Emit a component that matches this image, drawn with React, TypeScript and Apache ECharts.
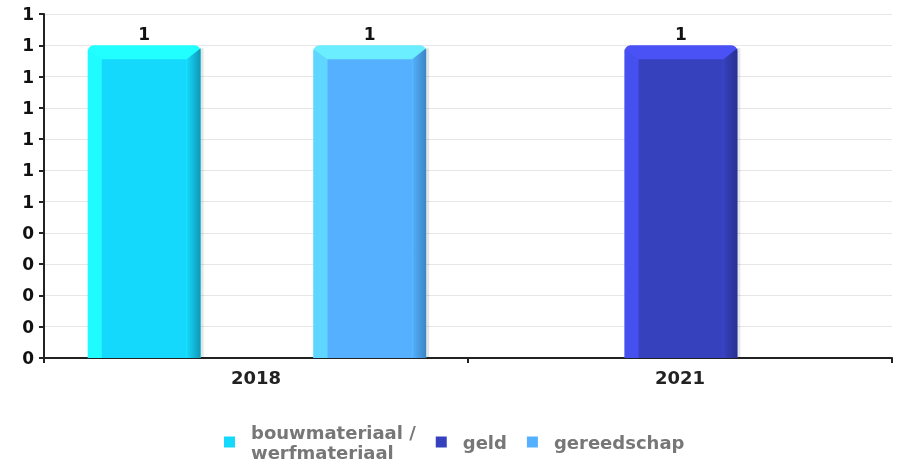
import React, { useEffect, useRef } from "react";
import * as echarts from "echarts";

const categories = ["2018", "2021"];
const seriesNames = ["bouwmateriaal / werfmateriaal", "geld", "gereedschap"];
const bouwmateriaal: (number | null)[] = [1, null];
const geld: (number | null)[] = [null, 1];
const gereedschap: (number | null)[] = [1, null];
const yTicks = { min: 0, max: 1.1, interval: 0.1 };

const palettes = [
  { base: "#15D9FC", light: "#1FFCFF", top: "#22FFFF", dark: "#1096B6" },
  { base: "#3641BE", light: "#4550EE", top: "#4A52F6", dark: "#283090" },
  { base: "#55B1FF", light: "#5FD6FF", top: "#6BEEFF", dark: "#3A84C4" },
];

const FONT = "DejaVu Sans";

function makeRender(slot: number, pal: any) {
  return (params: any, api: any) => {
    const ci = api.value(0);
    const v = api.value(1);
    const top = api.coord([ci, v]);
    const bot = api.coord([ci, 0]);
    const band = api.size([1, 0])[0];
    const w = band * 0.266;
    const cx = top[0] + (slot - 1) * w + 1;
    const x0 = cx - w / 2;
    const x1 = cx + w / 2;
    const yT = top[1];
    const yB = bot[1];
    const b = 14;
    return {
      type: "group",
      children: [
        { type: "rect", shape: { x: x1, y: yT + 3, width: 3, height: yB - yT - 3 }, style: { fill: "rgba(0,0,0,0.10)" } },
        { type: "rect", shape: { x: x0, y: yT, width: w, height: yB - yT, r: [6, 6, 0, 0] }, style: { fill: pal.top } },
        {
          type: "polygon",
          shape: { points: [[x0, yT + 4], [x0 + b, yT + b], [x0 + b, yB], [x0, yB]] },
          style: { fill: pal.light },
        },
        {
          type: "polygon",
          shape: { points: [[x1, yT + 3], [x1 - b, yT + b], [x1 - b, yB], [x1, yB]] },
          style: {
            fill: new echarts.graphic.LinearGradient(0, 0, 1, 0, [
              { offset: 0, color: pal.base },
              { offset: 1, color: pal.dark },
            ]),
          },
        },
        { type: "rect", shape: { x: x0 + b, y: yT + b, width: w - 2 * b, height: yB - yT - b }, style: { fill: pal.base } },
        {
          type: "text",
          style: {
            text: String(Math.round(v)),
            x: cx,
            y: yT - 3,
            align: "center",
            verticalAlign: "bottom",
            fill: "#111",
            font: `bold 17px "${FONT}"`,
          },
        },
      ],
    };
  };
}

const toData = (arr: (number | null)[]) =>
  arr.map((v, i) => [i, v]).filter((d) => d[1] !== null);

export default function App() {
  const ref = useRef<HTMLDivElement>(null);
  useEffect(() => {
    if (!ref.current) return;
    const chart = echarts.init(ref.current, undefined, { renderer: "svg" });
    const all = [bouwmateriaal, geld, gereedschap];
    chart.setOption({
      animation: false,
      textStyle: { fontFamily: FONT },
      grid: { left: 44, right: 9, top: 14, bottom: 107, containLabel: false },
      legend: {
        left: 224,
        top: 422,
        padding: 0,
        icon: "rect",
        itemWidth: 11,
        itemHeight: 11,
        itemGap: 20,
        data: seriesNames,
        formatter: (n: string) => n.replace(" / ", " /\n"),
        textStyle: {
          color: "#777",
          fontWeight: "bold",
          fontSize: 18,
          lineHeight: 20,
          fontFamily: FONT,
          padding: [0, 0, 0, 11],
        },
      },
      xAxis: {
        type: "category",
        data: categories,
        boundaryGap: true,
        axisLine: { lineStyle: { color: "#222", width: 2 } },
        axisTick: { show: true, length: 5, lineStyle: { color: "#222", width: 2 } },
        axisLabel: { color: "#222", fontWeight: "bold", fontSize: 18, margin: 10, fontFamily: FONT },
        splitLine: { show: false },
      },
      yAxis: {
        type: "value",
        min: yTicks.min,
        max: yTicks.max,
        interval: yTicks.interval,
        axisLine: { show: true, lineStyle: { color: "#222", width: 2 } },
        axisTick: { show: true, length: 5, lineStyle: { color: "#222", width: 2 } },
        axisLabel: {
          color: "#111",
          fontWeight: "bold",
          fontSize: 17,
          margin: 10,
          fontFamily: FONT,
          formatter: (v: number) => String(Math.round(v)),
        },
        splitLine: { lineStyle: { color: "#e6e6e6", width: 1 } },
      },
      series: seriesNames.map((name, i) => ({
        type: "custom",
        name,
        itemStyle: { color: palettes[i].base },
        renderItem: makeRender(i, palettes[i]),
        encode: { x: 0, y: 1 },
        data: toData(all[i]),
      })),
    });
    return () => chart.dispose();
  }, []);
  return (
    <div
      ref={ref}
      style={{ position: "fixed", left: 0, top: 0, width: 901, height: 465 }}
    />
  );
}
